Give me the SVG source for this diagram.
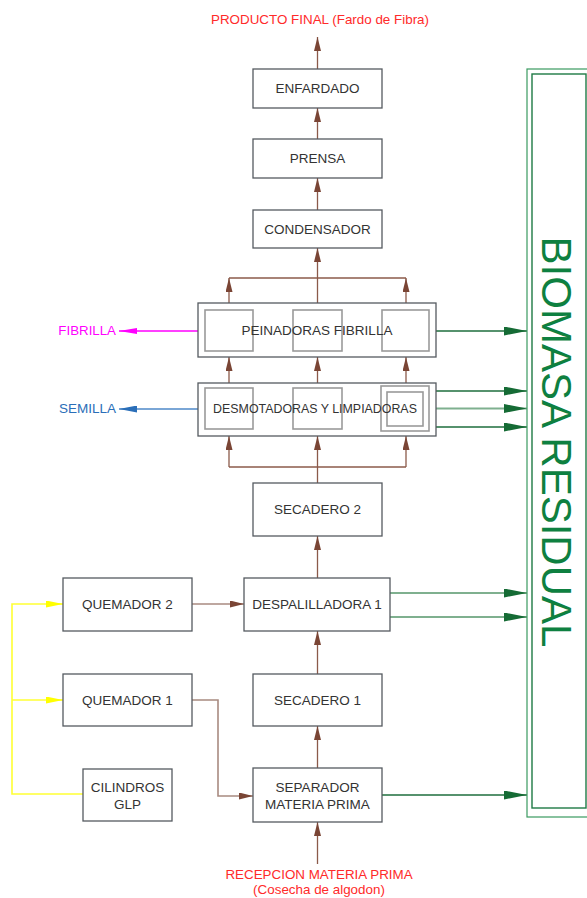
<svg xmlns="http://www.w3.org/2000/svg" width="587" height="898" viewBox="0 0 587 898">
<style>
.box{fill:#fff;stroke:#555a60;stroke-width:1.3}
.inner{fill:none;stroke:#9a9a9a;stroke-width:1.6}
.lbl{font-family:"Liberation Sans",Arial,sans-serif;font-size:13.5px;fill:#333;text-anchor:middle}
.red{font-family:"Liberation Sans",Arial,sans-serif;font-size:13.4px;fill:#ff2a2a;text-anchor:middle}
.br{stroke:#8b5a4a;stroke-width:1.3;fill:none}
.brl{stroke:#a88a80;stroke-width:1.6;fill:none}
.gr{stroke:#1e6e3c;stroke-width:1.3;fill:none}
.grl{stroke:#7fb08f;stroke-width:1.8;fill:none}
.ye{stroke:#ffff33;stroke-width:1.6;fill:none}
</style>
<defs>
<marker id="ab" viewBox="0 0 14 7" refX="14" refY="3.5" markerWidth="14" markerHeight="7" markerUnits="userSpaceOnUse" orient="auto"><path d="M0,0 L14,3.5 L0,7 z" fill="#7a4535"/></marker>
<marker id="ag" viewBox="0 0 23 9" refX="23" refY="4.5" markerWidth="23" markerHeight="9" markerUnits="userSpaceOnUse" orient="auto"><path d="M0,0 L23,4.5 L0,9 z" fill="#156b35"/></marker>
<marker id="ay" viewBox="0 0 17 7" refX="17" refY="3.5" markerWidth="17" markerHeight="7" markerUnits="userSpaceOnUse" orient="auto"><path d="M0,0 L17,3.5 L0,7 z" fill="#ffff00"/></marker>
<marker id="am" viewBox="0 0 18 6" refX="18" refY="3" markerWidth="18" markerHeight="6" markerUnits="userSpaceOnUse" orient="auto"><path d="M0,0 L18,3 L0,6 z" fill="#ff00ff"/></marker>
<marker id="abl" viewBox="0 0 18 7" refX="18" refY="3.5" markerWidth="18" markerHeight="7" markerUnits="userSpaceOnUse" orient="auto"><path d="M0,0 L18,3.5 L0,7 z" fill="#2a6eb8"/></marker>
</defs>
<rect width="587" height="898" fill="#fff"/>

<g id="connectors">
<line class="br" x1="317.5" y1="69" x2="317.5" y2="37" marker-end="url(#ab)"/>
<line class="br" x1="317.5" y1="139" x2="317.5" y2="108" marker-end="url(#ab)"/>
<line class="br" x1="317.5" y1="210" x2="317.5" y2="178" marker-end="url(#ab)"/>
<line class="br" x1="317.5" y1="303" x2="317.5" y2="248" marker-end="url(#ab)"/>
<line class="br" x1="229" y1="278" x2="406" y2="278"/>
<line class="br" x1="229" y1="303" x2="229" y2="278" marker-end="url(#ab)"/>
<line class="br" x1="406" y1="303" x2="406" y2="278" marker-end="url(#ab)"/>
<line class="br" x1="229" y1="383" x2="229" y2="357" marker-end="url(#ab)"/>
<line class="br" x1="317.5" y1="383" x2="317.5" y2="357" marker-end="url(#ab)"/>
<line class="br" x1="406" y1="383" x2="406" y2="357" marker-end="url(#ab)"/>
<line class="br" x1="229" y1="467" x2="406" y2="467"/>
<line class="br" x1="317.5" y1="483" x2="317.5" y2="467"/>
<line class="br" x1="229" y1="467" x2="229" y2="436" marker-end="url(#ab)"/>
<line class="br" x1="317.5" y1="467" x2="317.5" y2="436" marker-end="url(#ab)"/>
<line class="br" x1="406" y1="467" x2="406" y2="436" marker-end="url(#ab)"/>
<line class="br" x1="317.5" y1="578" x2="317.5" y2="536" marker-end="url(#ab)"/>
<line class="br" x1="317.5" y1="674" x2="317.5" y2="631" marker-end="url(#ab)"/>
<line class="br" x1="317.5" y1="768" x2="317.5" y2="726" marker-end="url(#ab)"/>
<line class="br" x1="317.5" y1="864" x2="317.5" y2="822" marker-end="url(#ab)"/>
<line class="brl" x1="192" y1="604" x2="244" y2="604" marker-end="url(#ab)"/>
<polyline class="brl" points="192,700 218,700 218,796 253,796" marker-end="url(#ab)"/>
<polyline class="ye" points="83,794 12,794 12,604 63,604" marker-end="url(#ay)"/>
<line class="ye" x1="12" y1="700" x2="63" y2="700" marker-end="url(#ay)"/>
<line x1="198" y1="331" x2="119" y2="331" stroke="#ff00ff" stroke-width="1.3" marker-end="url(#am)"/>
<line x1="198" y1="409" x2="119" y2="409" stroke="#7aa6d6" stroke-width="1.8" marker-end="url(#abl)"/>
<line class="gr" x1="436" y1="331" x2="527" y2="331" marker-end="url(#ag)"/>
<line class="gr" x1="436" y1="391" x2="527" y2="391" marker-end="url(#ag)"/>
<line class="grl" x1="436" y1="408.5" x2="527" y2="408.5" marker-end="url(#ag)"/>
<line class="gr" x1="436" y1="427" x2="527" y2="427" marker-end="url(#ag)"/>
<line class="grl" x1="390" y1="593" x2="527" y2="593" marker-end="url(#ag)"/>
<line class="grl" x1="390" y1="617" x2="527" y2="617" marker-end="url(#ag)"/>
<line class="gr" x1="382" y1="795" x2="527" y2="795" marker-end="url(#ag)"/>
</g>

<g id="producto-final"><text class="red" x="320" y="24">PRODUCTO FINAL (Fardo de Fibra)</text></g>
<g id="enfardado"><rect class="box" x="253" y="69" width="129" height="39"/><text class="lbl" x="317.5" y="93">ENFARDADO</text></g>
<g id="prensa"><rect class="box" x="253" y="139" width="129" height="39"/><text class="lbl" x="317.5" y="163">PRENSA</text></g>
<g id="condensador"><rect class="box" x="253" y="210" width="129" height="38"/><text class="lbl" x="317.5" y="234">CONDENSADOR</text></g>
<g id="peinadoras"><rect class="box" x="198" y="303" width="238" height="54"/>
<rect class="inner" x="205" y="310" width="48" height="41"/><rect class="inner" x="293" y="310" width="49" height="41"/><rect class="inner" x="382" y="310" width="47" height="41"/>
<text class="lbl" x="317" y="335">PEINADORAS FIBRILLA</text></g>
<g id="desmotadoras"><rect class="box" x="198" y="383" width="238" height="53"/>
<rect class="inner" x="205" y="388" width="48" height="41"/><rect class="inner" x="293" y="388" width="49" height="41"/><rect class="inner" x="381" y="386" width="48" height="45"/><rect class="inner" x="387" y="392" width="36" height="34"/>
<text class="lbl" x="315" y="413" style="font-size:12.4px">DESMOTADORAS Y LIMPIADORAS</text></g>
<g id="fibrilla"><text x="116" y="335" font-family="Liberation Sans,Arial,sans-serif" font-size="13.3" fill="#ff00ff" text-anchor="end">FIBRILLA</text></g>
<g id="semilla"><text x="116" y="413" font-family="Liberation Sans,Arial,sans-serif" font-size="13.5" fill="#2a6eb8" text-anchor="end">SEMILLA</text></g>
<g id="secadero2"><rect class="box" x="253" y="483" width="129" height="53"/><text class="lbl" x="317.5" y="514">SECADERO 2</text></g>
<g id="despalilladora1"><rect class="box" x="244" y="578" width="146" height="53"/><text class="lbl" x="317" y="609">DESPALILLADORA 1</text></g>
<g id="secadero1"><rect class="box" x="253" y="674" width="129" height="52"/><text class="lbl" x="317.5" y="705">SECADERO 1</text></g>
<g id="separador"><rect class="box" x="253" y="768" width="129" height="54"/><text class="lbl" x="317.5" y="792">SEPARADOR</text><text class="lbl" x="317.5" y="809">MATERIA PRIMA</text></g>
<g id="quemador2"><rect class="box" x="63" y="578" width="129" height="53"/><text class="lbl" x="127.5" y="609">QUEMADOR 2</text></g>
<g id="quemador1"><rect class="box" x="63" y="674" width="129" height="52"/><text class="lbl" x="127.5" y="705">QUEMADOR 1</text></g>
<g id="cilindros"><rect class="box" x="83" y="769" width="89" height="52"/><text class="lbl" x="127.5" y="792">CILINDROS</text><text class="lbl" x="127.5" y="809">GLP</text></g>
<g id="recepcion"><text class="red" x="319" y="879">RECEPCION MATERIA PRIMA</text><text class="red" x="319" y="894">(Cosecha de algodon)</text></g>
<g id="biomasa"><rect x="527" y="69" width="70" height="748" fill="none" stroke="#3a9a60" stroke-width="1.2"/>
<rect x="532" y="74" width="54" height="734" fill="none" stroke="#1f7a45" stroke-width="1.4"/>
<text transform="translate(542,442) rotate(90)" font-family="Liberation Sans,Arial,sans-serif" font-size="42" fill="#0e8040" text-anchor="middle">BIOMASA RESIDUAL</text></g>
</svg>
